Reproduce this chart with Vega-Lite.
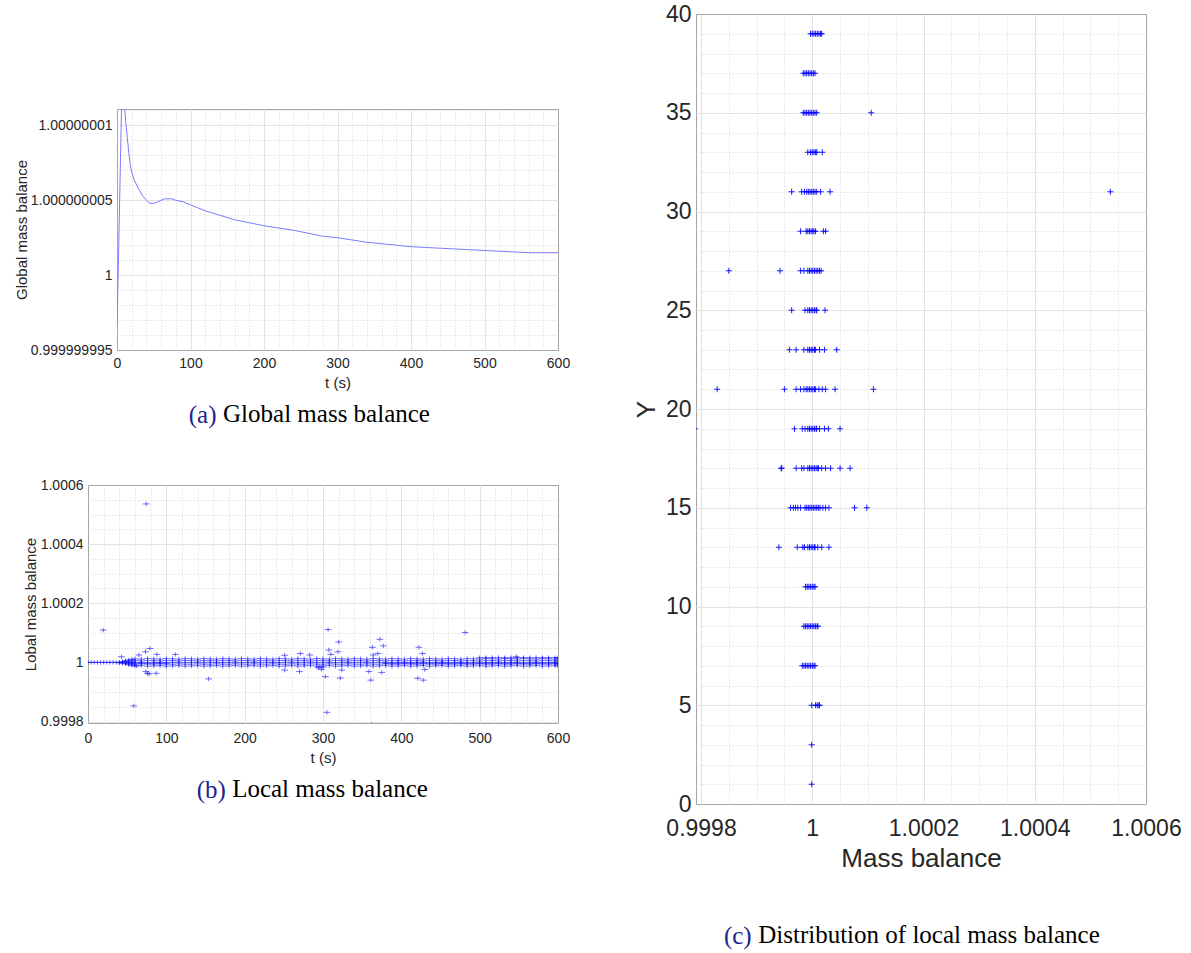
{
"$schema":"https://vega.github.io/schema/vega-lite/v6.json",
"background":"white",
"padding":{"left":13,"top":2,"right":5,"bottom":3},
"spacing":61,
"datasets":{
"global":[{"t":0,"v":0.9999999967},{"t":2,"v":1.000000001},{"t":4,"v":1.000000006},{"t":6,"v":1.0000000108},{"t":8,"v":1.0000000125},{"t":10,"v":1.0000000114},{"t":12,"v":1.0000000102},{"t":14,"v":1.0000000092},{"t":16,"v":1.0000000082},{"t":18,"v":1.0000000074},{"t":20,"v":1.0000000069},{"t":23,"v":1.0000000064},{"t":26,"v":1.0000000061},{"t":30,"v":1.0000000057},{"t":35,"v":1.0000000053},{"t":40,"v":1.000000005},{"t":45,"v":1.0000000048},{"t":50,"v":1.0000000048},{"t":55,"v":1.0000000049},{"t":60,"v":1.000000005},{"t":65,"v":1.0000000051},{"t":70,"v":1.0000000051},{"t":75,"v":1.0000000051},{"t":80,"v":1.000000005},{"t":90,"v":1.0000000049},{"t":100,"v":1.0000000047},{"t":110,"v":1.0000000045},{"t":120,"v":1.0000000043},{"t":140,"v":1.000000004},{"t":160,"v":1.0000000037},{"t":180,"v":1.0000000035},{"t":200,"v":1.0000000033},{"t":240,"v":1.000000003},{"t":280,"v":1.0000000026},{"t":300,"v":1.0000000025},{"t":340,"v":1.0000000022},{"t":380,"v":1.000000002},{"t":400,"v":1.0000000019},{"t":440,"v":1.0000000018},{"t":480,"v":1.0000000017},{"t":520,"v":1.0000000016},{"t":560,"v":1.0000000015},{"t":600,"v":1.0000000015}],
"local":[
{"t":0,"v":1},{"t":4,"v":1},{"t":8,"v":1},{"t":12,"v":1},{"t":16,"v":1},{"t":20,"v":1},{"t":24,"v":1},{"t":28,"v":1},{"t":32,"v":1},{"t":36,"v":1},{"t":40,"v":1},{"t":40,"v":0.999999},
{"t":44,"v":0.999997},{"t":44,"v":1},{"t":44,"v":1.000003},
{"t":48,"v":0.999995},{"t":48,"v":0.999999},{"t":48,"v":1.000002},{"t":48,"v":1.000006},
{"t":52,"v":0.999992},{"t":52,"v":0.999996},{"t":52,"v":1},{"t":52,"v":1.000004},{"t":52,"v":1.000008},
{"t":56,"v":0.99999},{"t":56,"v":0.999995},{"t":56,"v":1},{"t":56,"v":1.000005},{"t":56,"v":1.00001},
{"t":60,"v":0.999988},{"t":60,"v":0.999994},{"t":60,"v":0.999997},{"t":60,"v":1},{"t":60,"v":1.000006},{"t":60,"v":1.000012},
{"t":68,"v":0.999989},{"t":68,"v":0.999995},{"t":68,"v":0.999997},{"t":68,"v":1},{"t":68,"v":1.000005},{"t":68,"v":1.000011},
{"t":76,"v":0.999987},{"t":76,"v":0.999994},{"t":76,"v":0.999997},{"t":76,"v":0.999999},{"t":76,"v":1.000006},{"t":76,"v":1.000013},
{"t":84,"v":0.999988},{"t":84,"v":0.999994},{"t":84,"v":0.999997},{"t":84,"v":1},{"t":84,"v":1.000006},{"t":84,"v":1.000012},
{"t":92,"v":0.999989},{"t":92,"v":0.999995},{"t":92,"v":0.999997},{"t":92,"v":1},{"t":92,"v":1.000005},{"t":92,"v":1.000011},
{"t":100,"v":0.999987},{"t":100,"v":0.999994},{"t":100,"v":0.999997},{"t":100,"v":0.999999},{"t":100,"v":1.000006},{"t":100,"v":1.000013},
{"t":108,"v":0.999988},{"t":108,"v":0.999994},{"t":108,"v":1},{"t":108,"v":1.000006},{"t":108,"v":1.000012},
{"t":116,"v":0.999989},{"t":116,"v":0.999995},{"t":116,"v":1},{"t":116,"v":1.000005},{"t":116,"v":1.000011},
{"t":124,"v":0.999987},{"t":124,"v":0.999994},{"t":124,"v":0.999999},{"t":124,"v":1.000006},{"t":124,"v":1.000013},
{"t":132,"v":0.999988},{"t":132,"v":0.999994},{"t":132,"v":1},{"t":132,"v":1.000006},{"t":132,"v":1.000012},
{"t":140,"v":0.999989},{"t":140,"v":0.999995},{"t":140,"v":1},{"t":140,"v":1.000005},{"t":140,"v":1.000011},
{"t":148,"v":0.999987},{"t":148,"v":0.999994},{"t":148,"v":0.999999},{"t":148,"v":1.000006},{"t":148,"v":1.000013},
{"t":156,"v":0.999988},{"t":156,"v":0.999994},{"t":156,"v":1},{"t":156,"v":1.000006},{"t":156,"v":1.000012},
{"t":164,"v":0.999989},{"t":164,"v":0.999995},{"t":164,"v":1},{"t":164,"v":1.000005},{"t":164,"v":1.000011},
{"t":172,"v":0.999987},{"t":172,"v":0.999994},{"t":172,"v":0.999999},{"t":172,"v":1.000006},{"t":172,"v":1.000013},
{"t":180,"v":0.999988},{"t":180,"v":0.999994},{"t":180,"v":1},{"t":180,"v":1.000006},{"t":180,"v":1.000012},
{"t":188,"v":0.999989},{"t":188,"v":0.999995},{"t":188,"v":1},{"t":188,"v":1.000005},{"t":188,"v":1.000011},
{"t":196,"v":0.999987},{"t":196,"v":0.999994},{"t":196,"v":0.999999},{"t":196,"v":1.000006},{"t":196,"v":1.000013},
{"t":204,"v":0.999988},{"t":204,"v":0.999994},{"t":204,"v":1},{"t":204,"v":1.000006},{"t":204,"v":1.000012},
{"t":212,"v":0.999989},{"t":212,"v":0.999995},{"t":212,"v":1},{"t":212,"v":1.000005},{"t":212,"v":1.000011},
{"t":220,"v":0.999987},{"t":220,"v":0.999994},{"t":220,"v":0.999999},{"t":220,"v":1.000006},{"t":220,"v":1.000013},
{"t":228,"v":0.999988},{"t":228,"v":0.999994},{"t":228,"v":1},{"t":228,"v":1.000006},{"t":228,"v":1.000012},
{"t":236,"v":0.999989},{"t":236,"v":0.999995},{"t":236,"v":1},{"t":236,"v":1.000005},{"t":236,"v":1.000011},
{"t":244,"v":0.999987},{"t":244,"v":0.999994},{"t":244,"v":0.999999},{"t":244,"v":1.000006},{"t":244,"v":1.000013},
{"t":252,"v":0.999988},{"t":252,"v":0.999994},{"t":252,"v":1},{"t":252,"v":1.000006},{"t":252,"v":1.000012},
{"t":260,"v":0.999989},{"t":260,"v":0.999995},{"t":260,"v":1},{"t":260,"v":1.000005},{"t":260,"v":1.000011},
{"t":268,"v":0.999987},{"t":268,"v":0.999994},{"t":268,"v":0.999999},{"t":268,"v":1.000006},{"t":268,"v":1.000013},
{"t":276,"v":0.999988},{"t":276,"v":0.999994},{"t":276,"v":1},{"t":276,"v":1.000006},{"t":276,"v":1.000012},
{"t":284,"v":0.999989},{"t":284,"v":0.999995},{"t":284,"v":1},{"t":284,"v":1.000005},{"t":284,"v":1.000011},
{"t":292,"v":0.999987},{"t":292,"v":0.999994},{"t":292,"v":0.999999},{"t":292,"v":1.000006},{"t":292,"v":1.000013},
{"t":300,"v":0.999988},{"t":300,"v":0.999994},{"t":300,"v":1},{"t":300,"v":1.000006},{"t":300,"v":1.000012},
{"t":308,"v":0.999989},{"t":308,"v":0.999995},{"t":308,"v":1},{"t":308,"v":1.000005},{"t":308,"v":1.000011},
{"t":316,"v":0.999987},{"t":316,"v":0.999994},{"t":316,"v":0.999999},{"t":316,"v":1.000006},{"t":316,"v":1.000013},
{"t":324,"v":0.999988},{"t":324,"v":0.999994},{"t":324,"v":1},{"t":324,"v":1.000006},{"t":324,"v":1.000012},
{"t":332,"v":0.999989},{"t":332,"v":0.999995},{"t":332,"v":1},{"t":332,"v":1.000005},{"t":332,"v":1.000011},
{"t":340,"v":0.999987},{"t":340,"v":0.999994},{"t":340,"v":0.999999},{"t":340,"v":1.000006},{"t":340,"v":1.000013},
{"t":348,"v":0.999988},{"t":348,"v":0.999994},{"t":348,"v":1},{"t":348,"v":1.000006},{"t":348,"v":1.000012},
{"t":356,"v":0.999989},{"t":356,"v":0.999995},{"t":356,"v":1},{"t":356,"v":1.000005},{"t":356,"v":1.000011},
{"t":364,"v":0.999987},{"t":364,"v":0.999994},{"t":364,"v":0.999999},{"t":364,"v":1.000006},{"t":364,"v":1.000013},
{"t":372,"v":0.999988},{"t":372,"v":0.999994},{"t":372,"v":1},{"t":372,"v":1.000006},{"t":372,"v":1.000012},
{"t":380,"v":0.999989},{"t":380,"v":0.999995},{"t":380,"v":0.999997},{"t":380,"v":1},{"t":380,"v":1.000005},{"t":380,"v":1.000011},
{"t":388,"v":0.999987},{"t":388,"v":0.999994},{"t":388,"v":0.999997},{"t":388,"v":0.999999},{"t":388,"v":1.000006},{"t":388,"v":1.000013},
{"t":396,"v":0.999988},{"t":396,"v":0.999994},{"t":396,"v":0.999997},{"t":396,"v":1},{"t":396,"v":1.000006},{"t":396,"v":1.000012},
{"t":404,"v":0.999989},{"t":404,"v":0.999995},{"t":404,"v":0.999997},{"t":404,"v":1},{"t":404,"v":1.000005},{"t":404,"v":1.000011},
{"t":412,"v":0.999987},{"t":412,"v":0.999994},{"t":412,"v":0.999997},{"t":412,"v":0.999999},{"t":412,"v":1.000006},{"t":412,"v":1.000013},
{"t":420,"v":0.999988},{"t":420,"v":0.999994},{"t":420,"v":0.999997},{"t":420,"v":1},{"t":420,"v":1.000006},{"t":420,"v":1.000012},
{"t":428,"v":0.999989},{"t":428,"v":0.999995},{"t":428,"v":0.999997},{"t":428,"v":1},{"t":428,"v":1.000005},{"t":428,"v":1.000011},
{"t":436,"v":0.999987},{"t":436,"v":0.999994},{"t":436,"v":0.999997},{"t":436,"v":0.999999},{"t":436,"v":1.000006},{"t":436,"v":1.000013},
{"t":444,"v":0.999988},{"t":444,"v":0.999994},{"t":444,"v":0.999997},{"t":444,"v":1},{"t":444,"v":1.000006},{"t":444,"v":1.000012},
{"t":452,"v":0.999989},{"t":452,"v":0.999995},{"t":452,"v":0.999997},{"t":452,"v":1},{"t":452,"v":1.000005},{"t":452,"v":1.000011},
{"t":460,"v":0.999987},{"t":460,"v":0.999994},{"t":460,"v":0.999997},{"t":460,"v":0.999999},{"t":460,"v":1.000006},{"t":460,"v":1.000013},
{"t":468,"v":0.999988},{"t":468,"v":0.999994},{"t":468,"v":0.999997},{"t":468,"v":1},{"t":468,"v":1.000006},{"t":468,"v":1.000012},
{"t":476,"v":0.999989},{"t":476,"v":0.999995},{"t":476,"v":0.999997},{"t":476,"v":1},{"t":476,"v":1.000005},{"t":476,"v":1.000011},
{"t":484,"v":0.999987},{"t":484,"v":0.999994},{"t":484,"v":0.999997},{"t":484,"v":0.999999},{"t":484,"v":1.000006},{"t":484,"v":1.000013},
{"t":492,"v":0.999988},{"t":492,"v":0.999994},{"t":492,"v":0.999997},{"t":492,"v":1},{"t":492,"v":1.000006},{"t":492,"v":1.000012},
{"t":500,"v":0.999989},{"t":500,"v":0.999995},{"t":500,"v":0.999997},{"t":500,"v":1},{"t":500,"v":1.000005},{"t":500,"v":1.000011},{"t":500,"v":1.000016},
{"t":508,"v":0.999987},{"t":508,"v":0.999994},{"t":508,"v":0.999997},{"t":508,"v":0.999999},{"t":508,"v":1.000006},{"t":508,"v":1.000013},{"t":508,"v":1.000016},
{"t":516,"v":0.999988},{"t":516,"v":0.999994},{"t":516,"v":0.999997},{"t":516,"v":1},{"t":516,"v":1.000006},{"t":516,"v":1.000012},{"t":516,"v":1.000016},
{"t":524,"v":0.999989},{"t":524,"v":0.999995},{"t":524,"v":0.999997},{"t":524,"v":1},{"t":524,"v":1.000005},{"t":524,"v":1.000011},{"t":524,"v":1.000016},
{"t":532,"v":0.999987},{"t":532,"v":0.999994},{"t":532,"v":0.999997},{"t":532,"v":0.999999},{"t":532,"v":1.000006},{"t":532,"v":1.000013},{"t":532,"v":1.000016},
{"t":540,"v":0.999988},{"t":540,"v":0.999994},{"t":540,"v":0.999997},{"t":540,"v":1},{"t":540,"v":1.000006},{"t":540,"v":1.000012},{"t":540,"v":1.000016},
{"t":548,"v":0.999989},{"t":548,"v":0.999995},{"t":548,"v":0.999997},{"t":548,"v":1},{"t":548,"v":1.000005},{"t":548,"v":1.000011},{"t":548,"v":1.000016},
{"t":556,"v":0.999987},{"t":556,"v":0.999994},{"t":556,"v":0.999997},{"t":556,"v":0.999999},{"t":556,"v":1.000006},{"t":556,"v":1.000013},{"t":556,"v":1.000016},
{"t":564,"v":0.999988},{"t":564,"v":0.999994},{"t":564,"v":0.999997},{"t":564,"v":1},{"t":564,"v":1.000006},{"t":564,"v":1.000012},{"t":564,"v":1.000016},
{"t":572,"v":0.999989},{"t":572,"v":0.999995},{"t":572,"v":0.999997},{"t":572,"v":1},{"t":572,"v":1.000005},{"t":572,"v":1.000011},{"t":572,"v":1.000016},
{"t":580,"v":0.999987},{"t":580,"v":0.999994},{"t":580,"v":0.999997},{"t":580,"v":0.999999},{"t":580,"v":1.000006},{"t":580,"v":1.000013},{"t":580,"v":1.000016},
{"t":588,"v":0.999988},{"t":588,"v":0.999994},{"t":588,"v":0.999997},{"t":588,"v":1},{"t":588,"v":1.000006},{"t":588,"v":1.000012},{"t":588,"v":1.000016},
{"t":596,"v":0.999989},{"t":596,"v":0.999995},{"t":596,"v":0.999997},{"t":596,"v":1},{"t":596,"v":1.000005},{"t":596,"v":1.000011},{"t":596,"v":1.000016},
{"t":600,"v":0.999987},{"t":600,"v":0.999994},{"t":600,"v":0.999997},{"t":600,"v":0.999999},{"t":600,"v":1.000006},{"t":600,"v":1.000013},{"t":600,"v":1.000016},
{"t":19.5,"v":1.000109},{"t":74.3,"v":1.000536},{"t":58.5,"v":0.999853},{"t":42.7,"v":1.000019},{"t":65,"v":1.000025},{"t":73.4,"v":1.000036},{"t":79,"v":1.000047},{"t":88,"v":1.000027},{"t":62,"v":0.999988},{"t":74,"v":0.999969},{"t":76,"v":0.999963},{"t":78,"v":0.999961},{"t":87,"v":0.999963},{"t":111.5,"v":1.000027},{"t":154,"v":0.999944},{"t":251,"v":1.000024},{"t":251,"v":0.999974},{"t":270,"v":0.999969},{"t":271,"v":1.00003},{"t":283,"v":1.000025},{"t":294,"v":0.999982},{"t":296,"v":0.999985},{"t":298,"v":0.999976},{"t":300,"v":0.999984},{"t":303,"v":0.999952},{"t":305,"v":0.999831},{"t":306.5,"v":1.000111},{"t":307.5,"v":1.000042},{"t":310,"v":1.000027},{"t":319,"v":1.000036},{"t":320,"v":1.000069},{"t":322,"v":0.999947},{"t":324,"v":0.999974},{"t":358.5,"v":0.999969},{"t":361,"v":0.99994},{"t":362,"v":0.999791},{"t":363,"v":1.000051},{"t":364,"v":1.000025},{"t":370,"v":1.00003},{"t":372.5,"v":1.000078},{"t":375,"v":0.999966},{"t":377,"v":1.000056},{"t":421,"v":0.999946},{"t":422.5,"v":1.000051},{"t":427,"v":1.00003},{"t":428,"v":0.99994},{"t":430,"v":0.999976},{"t":481.5,"v":1.000101},{"t":546.5,"v":1.000019}
],
"dist":[
{"y":39,"v":0.999997},{"y":39,"v":1},{"y":39,"v":1.000003},{"y":39,"v":1.000006},{"y":39,"v":1.000009},{"y":39,"v":1.000012},{"y":39,"v":1.000015},{"y":39,"v":1.000017},
{"y":37,"v":0.999984},{"y":37,"v":0.999987},{"y":37,"v":0.99999},{"y":37,"v":0.999993},{"y":37,"v":0.999996},{"y":37,"v":0.999999},{"y":37,"v":1.000002},{"y":37,"v":1.000005},
{"y":35,"v":0.999984},{"y":35,"v":0.999987},{"y":35,"v":0.99999},{"y":35,"v":0.999993},{"y":35,"v":0.999996},{"y":35,"v":0.999999},{"y":35,"v":1.000002},{"y":35,"v":1.000005},{"y":35,"v":1.000008},{"y":35,"v":1.000106},
{"y":33,"v":0.999997},{"y":33,"v":1},{"y":33,"v":1.000003},{"y":33,"v":1.000006},{"y":33,"v":1.000008},{"y":33,"v":0.999992},{"y":33,"v":1.000018},
{"y":31,"v":0.99999},{"y":31,"v":0.999993},{"y":31,"v":0.999996},{"y":31,"v":0.999999},{"y":31,"v":1.000002},{"y":31,"v":1.000005},{"y":31,"v":1.000008},{"y":31,"v":0.999963},{"y":31,"v":0.999981},{"y":31,"v":0.999986},{"y":31,"v":1.000015},{"y":31,"v":1.000032},{"y":31,"v":1.000536},
{"y":29,"v":0.999989},{"y":29,"v":0.999992},{"y":29,"v":0.999995},{"y":29,"v":0.999998},{"y":29,"v":1.000001},{"y":29,"v":1.000003},{"y":29,"v":0.999979},{"y":29,"v":1.000006},{"y":29,"v":1.00002},{"y":29,"v":1.000024},
{"y":27,"v":0.999992},{"y":27,"v":0.999995},{"y":27,"v":0.999998},{"y":27,"v":1.000001},{"y":27,"v":1.000004},{"y":27,"v":1.000007},{"y":27,"v":1.00001},{"y":27,"v":1.000013},{"y":27,"v":1.000016},{"y":27,"v":0.99985},{"y":27,"v":0.999942},{"y":27,"v":0.999979},{"y":27,"v":0.999985},
{"y":25,"v":0.999992},{"y":25,"v":0.999995},{"y":25,"v":0.999998},{"y":25,"v":1.000001},{"y":25,"v":1.000004},{"y":25,"v":1.000007},{"y":25,"v":1.000008},{"y":25,"v":0.999963},{"y":25,"v":0.999987},{"y":25,"v":1.000023},
{"y":23,"v":0.999992},{"y":23,"v":0.999995},{"y":23,"v":0.999998},{"y":23,"v":1.000001},{"y":23,"v":1.000004},{"y":23,"v":1.000006},{"y":23,"v":0.999959},{"y":23,"v":0.999971},{"y":23,"v":0.999985},{"y":23,"v":1.000013},{"y":23,"v":1.000022},{"y":23,"v":1.000044},
{"y":21,"v":0.999989},{"y":21,"v":0.999992},{"y":21,"v":0.999995},{"y":21,"v":0.999998},{"y":21,"v":1.000001},{"y":21,"v":1.000004},{"y":21,"v":1.000006},{"y":21,"v":0.999829},{"y":21,"v":0.99995},{"y":21,"v":0.999971},{"y":21,"v":0.999979},{"y":21,"v":0.999985},{"y":21,"v":1.000012},{"y":21,"v":1.000018},{"y":21,"v":1.000024},{"y":21,"v":1.000041},{"y":21,"v":1.00011},
{"y":19,"v":0.999992},{"y":19,"v":0.999995},{"y":19,"v":0.999998},{"y":19,"v":1.000001},{"y":19,"v":1.000004},{"y":19,"v":1.000007},{"y":19,"v":1.000008},{"y":19,"v":0.999789},{"y":19,"v":0.999968},{"y":19,"v":0.999982},{"y":19,"v":0.999987},{"y":19,"v":1.000013},{"y":19,"v":1.000022},{"y":19,"v":1.000029},{"y":19,"v":1.00005},
{"y":17,"v":0.999992},{"y":17,"v":0.999995},{"y":17,"v":0.999998},{"y":17,"v":1.000001},{"y":17,"v":1.000004},{"y":17,"v":1.000007},{"y":17,"v":1.00001},{"y":17,"v":1.000011},{"y":17,"v":0.999944},{"y":17,"v":0.999945},{"y":17,"v":0.999971},{"y":17,"v":0.999981},{"y":17,"v":0.999985},{"y":17,"v":1.000017},{"y":17,"v":1.000024},{"y":17,"v":1.000033},{"y":17,"v":1.00005},{"y":17,"v":1.000068},
{"y":15,"v":0.999987},{"y":15,"v":0.99999},{"y":15,"v":0.999993},{"y":15,"v":0.999996},{"y":15,"v":0.999999},{"y":15,"v":1.000002},{"y":15,"v":1.000005},{"y":15,"v":1.000008},{"y":15,"v":1.000011},{"y":15,"v":0.999961},{"y":15,"v":0.999966},{"y":15,"v":0.99997},{"y":15,"v":0.999974},{"y":15,"v":0.999979},{"y":15,"v":1.000014},{"y":15,"v":1.000019},{"y":15,"v":1.000024},{"y":15,"v":1.00003},{"y":15,"v":1.000076},{"y":15,"v":1.000098},
{"y":13,"v":0.999992},{"y":13,"v":0.999995},{"y":13,"v":0.999998},{"y":13,"v":1.000001},{"y":13,"v":1.000004},{"y":13,"v":1.000005},{"y":13,"v":0.99994},{"y":13,"v":0.999973},{"y":13,"v":0.999983},{"y":13,"v":0.999986},{"y":13,"v":1.00001},{"y":13,"v":1.000017},{"y":13,"v":1.00003},
{"y":11,"v":0.999988},{"y":11,"v":0.999991},{"y":11,"v":0.999994},{"y":11,"v":0.999997},{"y":11,"v":1},{"y":11,"v":1.000003},{"y":11,"v":1.000005},
{"y":9,"v":0.999985},{"y":9,"v":0.999988},{"y":9,"v":0.999991},{"y":9,"v":0.999994},{"y":9,"v":0.999997},{"y":9,"v":1},{"y":9,"v":1.000003},{"y":9,"v":1.000006},{"y":9,"v":1.000009},{"y":9,"v":1.00001},
{"y":7,"v":0.999982},{"y":7,"v":0.999985},{"y":7,"v":0.999988},{"y":7,"v":0.999991},{"y":7,"v":0.999994},{"y":7,"v":0.999997},{"y":7,"v":1},{"y":7,"v":1.000003},{"y":7,"v":1.000005},
{"y":5,"v":0.999999},{"y":5,"v":1.000006},{"y":5,"v":1.000009},{"y":5,"v":1.000012},{"y":5,"v":1.000013},
{"y":3,"v":0.999999},{"y":1,"v":0.999999}
]
},
"hconcat":[
{
"spacing":49,
"vconcat":[
{
"width":1,"height":39,
"view":{"stroke":null},
"data":{"name":"global"},
"mark":{"type":"point","opacity":0},
"encoding":{}
},
{
"hconcat":[
{
"width":1,"height":1,
"view":{"stroke":null},
"data":{"name":"global"},
"mark":{"type":"point","opacity":0},
"encoding":{}
},
{
"width":441,"height":241,
"data":{"name":"global"},
"title":{"text":"Global mass balance","orient":"bottom","anchor":"middle","frame":"group","offset":12,"dx":-11},
"mark":{"type":"line","clip":true,"color":"#7b7bff","strokeWidth":1},
"encoding":{
"x":{"field":"t","type":"quantitative","scale":{"domain":[0,600],"nice":false,"zero":false},
"axis":{"title":"t (s)","values":[0,20,40,60,80,100,120,140,160,180,200,220,240,260,280,300,320,340,360,380,400,420,440,460,480,500,520,540,560,580,600],
"labelExpr":"datum.value % 100 === 0 ? datum.label : ''",
"gridDash":{"condition":{"test":"datum.value % 100 === 0","value":[]},"value":[1,2]},
"gridColor":{"condition":{"test":"datum.value % 100 === 0","value":"#e3e3e3"},"value":"#d6d6d6"},
"gridOpacity":{"condition":{"test":"datum.value === 0 || datum.value === 600","value":0},"value":1},
"labelFontSize":14,"titleFontSize":15,"labelPadding":6,"titlePadding":5}},
"y":{"field":"v","type":"quantitative","scale":{"domain":[0.999999995,1.0000000111],"nice":false,"zero":false},
"axis":{"title":"Global mass balance","format":".10~g","values":[0.999999995,0.999999996,0.999999997,0.999999998,0.999999999,1,1.000000001,1.000000002,1.000000003,1.000000004,1.000000005,1.000000006,1.000000007,1.000000008,1.000000009,1.00000001,1.000000011],
"labelExpr":"abs(datum.value*1e9 - 5*round(datum.value*2e8)) < 0.1 ? datum.label : ''",
"gridDash":{"condition":{"test":"abs(datum.value*1e9 - 5*round(datum.value*2e8)) < 0.1","value":[]},"value":[1,2]},
"gridColor":{"condition":{"test":"abs(datum.value*1e9 - 5*round(datum.value*2e8)) < 0.1","value":"#e3e3e3"},"value":"#d6d6d6"},
"gridOpacity":{"condition":{"test":"datum.value < 0.9999999955","value":0},"value":1},
"labelFontSize":14,"titleFontSize":15,"labelPadding":5,"titlePadding":1}}
}
}
],
"bounds":"flush",
"spacing":28,
"title":{"text":"(a)","orient":"bottom","anchor":"start","frame":"bounds","offset":0,"dx":175,"dy":-25,"color":"#23238e"}
},
{
"vconcat":[
{
"width":470,"height":238,
"data":{"name":"local"},
"title":{"text":"Local mass balance","orient":"bottom","anchor":"middle","frame":"group","offset":12,"dx":7},
"mark":{"type":"point","clip":true,"shape":"M-1.5,0H1.5M0,-1V1","filled":false,"size":20,"strokeWidth":0.7,"color":"#0000ff","opacity":0.8},
"encoding":{
"x":{"field":"t","type":"quantitative","scale":{"domain":[0,600],"nice":false,"zero":false},
"axis":{"title":"t (s)","values":[0,20,40,60,80,100,120,140,160,180,200,220,240,260,280,300,320,340,360,380,400,420,440,460,480,500,520,540,560,580,600],
"labelExpr":"datum.value % 100 === 0 ? datum.label : ''",
"gridDash":{"condition":{"test":"datum.value % 100 === 0","value":[]},"value":[1,2]},
"gridColor":{"condition":{"test":"datum.value % 100 === 0","value":"#e3e3e3"},"value":"#d6d6d6"},
"gridOpacity":{"condition":{"test":"datum.value === 0 || datum.value === 600","value":0},"value":1},
"labelFontSize":14,"titleFontSize":15,"labelPadding":8,"titlePadding":5}},
"y":{"field":"v","type":"quantitative","scale":{"domain":[0.999795,1.0006],"nice":false,"zero":false},
"axis":{"title":"Lobal mass balance","format":"~g","values":[0.9998,0.99985,0.9999,0.99995,1,1.00005,1.0001,1.00015,1.0002,1.00025,1.0003,1.00035,1.0004,1.00045,1.0005,1.00055,1.0006],
"labelExpr":"abs(datum.value*1e4 - 2*round(datum.value*5e3)) < 0.01 ? datum.label : ''",
"gridDash":{"condition":{"test":"abs(datum.value*1e4 - 2*round(datum.value*5e3)) < 0.01","value":[]},"value":[1,2]},
"gridColor":{"condition":{"test":"abs(datum.value*1e4 - 2*round(datum.value*5e3)) < 0.01","value":"#e3e3e3"},"value":"#d6d6d6"},
"gridOpacity":{"condition":{"test":"datum.value > 1.00059","value":0},"value":1},
"labelFontSize":14,"titleFontSize":15,"labelPadding":5,"titlePadding":2}}
}
}
],
"title":{"text":"(b)","orient":"bottom","anchor":"start","frame":"bounds","offset":0,"dx":174,"dy":-25,"color":"#23238e"}
}
]
},
{
"vconcat":[
{
"width":450,"height":790,
"data":{"name":"dist"},
"title":{"text":"Distribution of local mass balance","orient":"bottom","anchor":"middle","frame":"group","offset":52,"dx":8},
"mark":{"type":"point","clip":true,"shape":"M-1,0H1M0,-1V1","filled":false,"size":36,"strokeWidth":1,"color":"#0000ff","opacity":0.9},
"encoding":{
"x":{"field":"v","type":"quantitative","scale":{"domain":[0.999791,1.0006],"nice":false,"zero":false},
"axis":{"title":"Mass balance","format":"~g","values":[0.9998,0.99985,0.9999,0.99995,1,1.00005,1.0001,1.00015,1.0002,1.00025,1.0003,1.00035,1.0004,1.00045,1.0005,1.00055,1.0006],
"labelExpr":"abs(datum.value*1e4 - 2*round(datum.value*5e3)) < 0.01 ? datum.label : ''",
"gridDash":{"condition":{"test":"abs(datum.value*1e4 - 2*round(datum.value*5e3)) < 0.01","value":[]},"value":[1,2]},
"gridColor":{"condition":{"test":"abs(datum.value*1e4 - 2*round(datum.value*5e3)) < 0.01","value":"#e3e3e3"},"value":"#d6d6d6"},
"gridOpacity":{"condition":{"test":"datum.value > 1.00059","value":0},"value":1},
"labelFontSize":23,"titleFontSize":26,"labelPadding":13,"titlePadding":5}},
"y":{"field":"y","type":"quantitative","scale":{"domain":[0,40],"nice":false,"zero":false},
"axis":{"title":"Y","values":[0,1,2,3,4,5,6,7,8,9,10,11,12,13,14,15,16,17,18,19,20,21,22,23,24,25,26,27,28,29,30,31,32,33,34,35,36,37,38,39,40],
"labelExpr":"datum.value % 5 === 0 ? datum.label : ''",
"gridDash":{"condition":{"test":"datum.value % 5 === 0","value":[]},"value":[1,2]},
"gridColor":{"condition":{"test":"datum.value % 5 === 0","value":"#e3e3e3"},"value":"#d6d6d6"},
"gridOpacity":{"condition":{"test":"datum.value === 0 || datum.value === 40","value":0},"value":1},
"labelFontSize":23,"titleFontSize":26,"labelPadding":5,"titlePadding":6}}
}
}
],
"title":{"text":"(c)","orient":"bottom","anchor":"start","frame":"bounds","offset":0,"dx":91,"dy":-25,"color":"#23238e"}
}
],
"config":{
"view":{"stroke":"#a6a6a6","strokeWidth":1},
"font":"Liberation Sans",
"axis":{"labelFont":"Liberation Sans","titleFont":"Liberation Sans","labelColor":"#262626","titleColor":"#262626","titleFontWeight":"normal","domain":false,"ticks":false,"grid":true,"labelFlush":false,"labelOverlap":false,"gridWidth":1},
"title":{"font":"Liberation Serif","fontSize":25,"fontWeight":"normal","color":"#000000"}
}
}
